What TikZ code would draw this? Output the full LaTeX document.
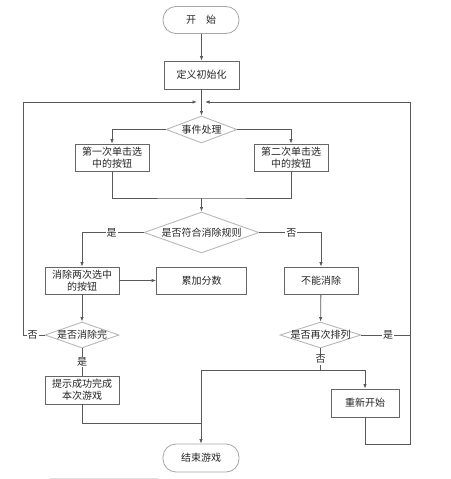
\documentclass[tikz,border=0pt]{standalone}
\usepackage{fontspec}
\newfontfamily\cjk{Noto Sans CJK SC}
\usetikzlibrary{shapes.geometric,arrows.meta}
\begin{document}
\begin{tikzpicture}[x=1pt,y=-1pt,
  every node/.style={font=\cjk\fontsize{10}{12}\selectfont, text=black!85},
  ln/.style={draw=black!65, line width=0.8pt},
  arr/.style={ln, -{Latex[length=4.5pt,width=3.5pt]}},
  box/.style={draw=black!60, line width=0.8pt, fill=white, inner sep=1pt, align=center, minimum height=27pt},
  dia/.style={shape=diamond, draw=black!28, line width=0.9pt, fill=white, inner sep=0pt},
  term/.style={draw=black!35, line width=0.8pt, fill=white, rounded corners=13pt, minimum width=76pt, minimum height=27pt},
  lab/.style={fill=white, inner sep=1pt}]
\useasboundingbox (0,0) rectangle (450,479);

% nodes
\node[term] (start) at (201,20) {开\hspace{1em}始};
\node[box, minimum width=75pt, minimum height=28pt] (init) at (201.5,75) {定义初始化};
\node[dia, minimum width=71pt, minimum height=27pt, label=center:{事件处理}] (evt) at (201.5,129.5) {};
\node[box, minimum width=74pt] (b1) at (112,157.5) {第一次单击选\\中的按钮};
\node[box, minimum width=74pt] (b2) at (291,157.5) {第二次单击选\\中的按钮};
\node[dia, minimum width=115pt, minimum height=41pt, label=center:{是否符合消除规则}] (rule) at (201.5,232.5) {};
\node[box, minimum width=74pt] (elim) at (82,280.5) {消除两次选中\\的按钮};
\node[box, minimum width=90pt] (score) at (201.5,280.5) {累加分数};
\node[box, minimum width=74pt] (noel) at (321,280.5) {不能消除};
\node[dia, minimum width=74pt, minimum height=26pt, label=center:{是否消除完}] (done) at (82,335) {};
\node[dia, minimum width=81pt, minimum height=26pt, label=center:{是否再次排列}] (again) at (320.5,335) {};
\node[box, minimum width=74pt, minimum height=28pt] (tip) at (82,390) {提示成功完成\\本次游戏};
\node[box, minimum width=68pt, minimum height=28pt] (restart) at (365,403) {重新开始};
\node[term, minimum height=28pt] (end) at (201,458) {结束游戏};

% coordinates
\coordinate (topL) at (197,102);
\coordinate (topR) at (205,102);
\coordinate (cL) at (23,102);
\coordinate (cR) at (410,102);
\coordinate (j1) at (201.5,198);
\coordinate (j2) at (201,370);
\coordinate (j3) at (201,423);

% main flow
\draw[arr] (start.south -| init.north) -- (init);
\draw[arr] (init) -- (evt);
\draw[arr] (evt.west) -| (b1.north);
\draw[arr] (evt.east) -| (b2.north);
\draw[ln] (b1.south) |- (j1) -| (b2.south);
\draw[arr] (j1) -- (rule.north);
\draw[arr] (rule.west) -| (elim.north) node[lab, pos=0.26] {是};
\draw[arr] (rule.east) -| (noel.north) node[lab, pos=0.26] {否};
\draw[arr] (elim) -- (score);
\draw[arr] (elim) -- (done);
\draw[ln] (done) -- (tip) node[lab, midway] {是};
\draw[arr] (noel) -- (again);
\draw[ln] (again.south) -- (again.south |- j2) node[lab, midway] {否};
\draw[ln] (j2) -- (restart.north |- j2);
\draw[arr] (restart.north |- j2) -- (restart.north);
\draw[arr] (j2) -- (end);
\draw[ln] (tip.south) |- (j3);

% loops
\draw[arr] (done.west) -- (done.west -| cL) node[lab, pos=0.55] {否} -- (cL) -- (topL);
\draw[arr] (restart.south) |- (410,444) -- (cR) -- (topR);
\draw[ln] (again.east) -- (again.east -| cR) node[lab, pos=0.55] {是};

% faint artefact line
\draw[black!12, line width=0.8pt] (50,478) -- (158,478);
\end{tikzpicture}
\end{document}
